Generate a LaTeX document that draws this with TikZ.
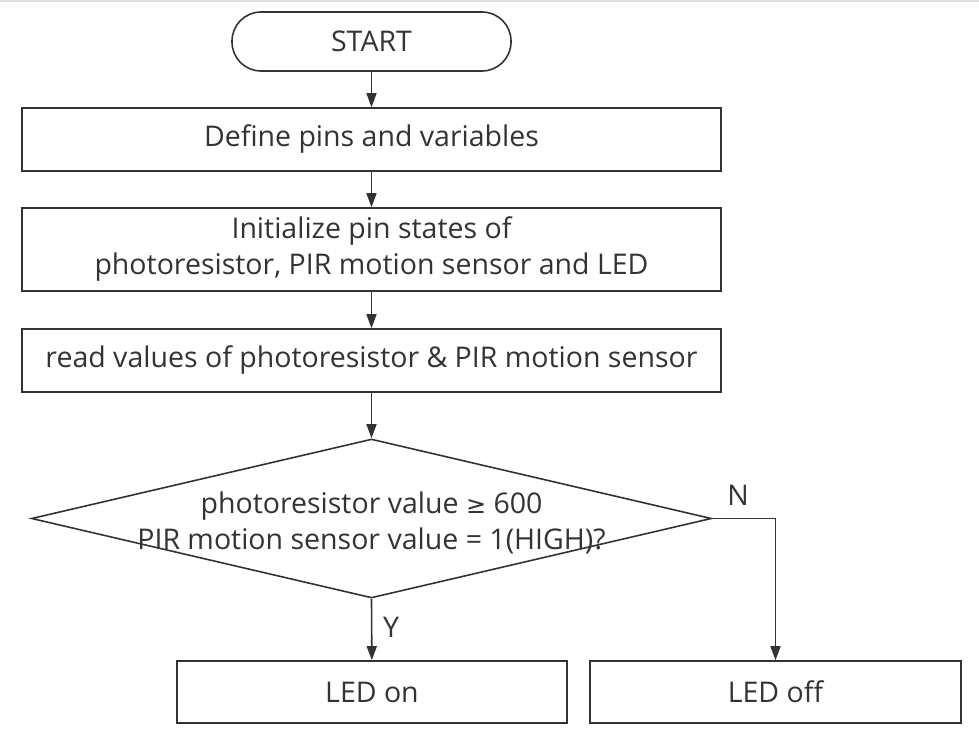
\documentclass[tikz,border=0pt]{standalone}
\usepackage{fontspec}
\setmainfont{Open Sans}
\newfontfamily\symfont{DejaVu Sans}
\usetikzlibrary{shapes.geometric,arrows.meta}
\definecolor{ln}{HTML}{333333}
\definecolor{tx}{HTML}{333333}
\begin{document}
\begin{tikzpicture}[x=1pt,y=-1pt,
  every node/.style={font=\fontsize{28.5}{36}\selectfont, text=tx},
  box/.style={draw=ln, line width=1.6pt, rectangle, inner sep=0pt, align=center},
  flow/.style={draw=ln, line width=1.6pt, -{Triangle[length=14pt,width=10pt]}},
  lab/.style={inner sep=0pt}
]
\useasboundingbox (0,0) rectangle (979,738);
\draw[gray!25, line width=1.5pt] (0,1) -- (979,1);
\node[box, rounded corners=29pt, minimum width=279pt, minimum height=59pt] (start) at (371.5,41.5) {START};
\node[box, minimum width=699pt, minimum height=63pt] (def) at (371.5,139.5) {\raisebox{-2pt}{Define pins and variables}};
\node[box, minimum width=699pt, minimum height=83pt] (init) at (371.5,249.5) {Initialize pin states of\\photoresistor, PIR motion sensor and LED};
\node[box, minimum width=699pt, minimum height=63pt] (read) at (371.5,360.5) {\raisebox{-2pt}{read values of photoresistor \& PIR motion sensor}};
\node[diamond, draw=ln, line width=1.6pt, minimum width=680pt, minimum height=159pt, inner sep=0pt] (dec) at (371.5,518.5) {};
\node[align=center, inner sep=0pt] (dectext) at (371.5,522.5) {photoresistor value {\symfont\fontsize{24}{36}\selectfont ≥} 600\\PIR motion sensor value = 1(HIGH)?};
\node[box, minimum width=390pt, minimum height=62pt] (on) at (372,692) {LED on};
\node[box, minimum width=371pt, minimum height=62pt] (off) at (775.5,692) {LED off};
\coordinate (corner) at (775.5,518.5);
\draw[flow] (start) -- (def);
\draw[flow] (def) -- (init);
\draw[flow] (init) -- (read);
\draw[flow] (read) -- (dec.north);
\draw[flow] (dec.south) -- (on);
\draw[flow] (dec.east) -- (corner) -- (off.north);
\node[lab] (nlab) at (738,495) {N};
\node[lab] (ylab) at (391,627) {Y};
\end{tikzpicture}
\end{document}
